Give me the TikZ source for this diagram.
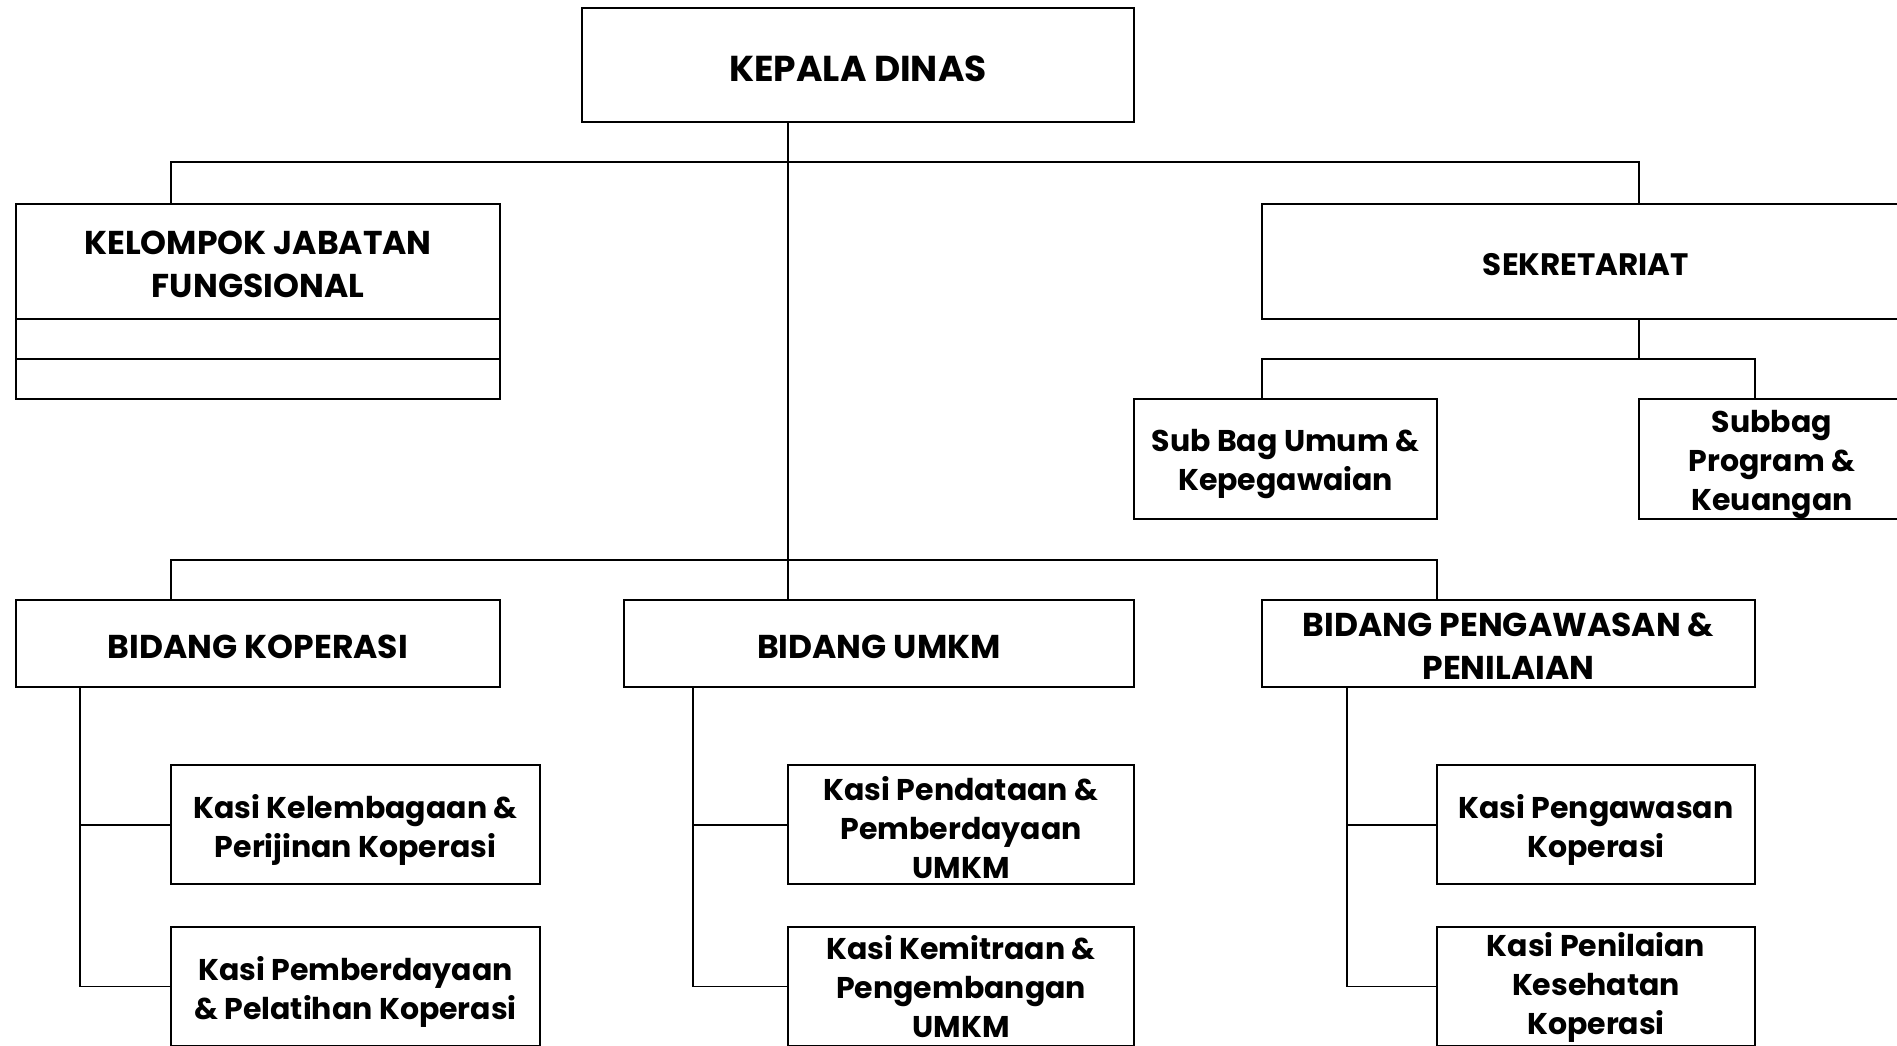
\documentclass[tikz,border=0pt]{standalone}
\usepackage{fontspec}
\setmainfont{Poppins}
\usetikzlibrary{calc}

% one unit = one pixel of the chart
\newcommand{\px}{0.5pt}

\tikzset{
  box/.style={draw, line width=1.2pt, inner sep=0pt, outer sep=0pt},
  headtext/.style={font=\fontsize{16.5}{21.5}\selectfont\bfseries, align=center, inner sep=0pt, yshift=-1.5pt},
  seksitext/.style={font=\fontsize{15}{19.5}\selectfont\bfseries, align=center, inner sep=0pt, yshift=-2.5pt},
  bus/.style={line width=1pt},
  stem/.style={line width=0.6pt},
}

\begin{document}
\begin{tikzpicture}[x=\px, y=-\px]
\useasboundingbox (0,0) rectangle (1897,1045);
\clip (0,0) rectangle (1897,1045);

% top level
\node[box, minimum width=552*\px, minimum height=114*\px,
  label={[headtext, font=\fontsize{18}{22}\selectfont\bfseries, yshift=-0.5pt]center:KEPALA DINAS}] (kepala) at (858,65) {};

\node[box, minimum width=484*\px, minimum height=115*\px,
  label={[headtext]center:{KELOMPOK JABATAN\\FUNGSIONAL}}] (kelompok) at (258,261.5) {};
\node[box, minimum width=484*\px, minimum height=40*\px, anchor=north] (kelrowa) at (kelompok.south) {};
\node[box, minimum width=484*\px, minimum height=40*\px, anchor=north] (kelrowb) at (kelrowa.south) {};

\node[box, minimum width=648*\px, minimum height=115*\px,
  label={[headtext, font=\fontsize{15.5}{21.5}\selectfont\bfseries]center:SEKRETARIAT}] (sekretariat) at (1586,261.5) {};
\node[box, minimum width=303*\px, minimum height=120*\px,
  label={[seksitext]center:{Sub Bag Umum \&\\Kepegawaian}}] (subumum) at (1285.5,459) {};
\node[box, minimum width=266*\px, minimum height=120*\px,
  label={[seksitext, yshift=-0.5pt]center:{Subbag\\Program \&\\Keuangan}}] (subprog) at (1772,459) {};

% bidang
\node[box, minimum width=484*\px, minimum height=87*\px,
  label={[headtext]center:BIDANG KOPERASI}] (bidkop) at (258,643.5) {};
\node[box, minimum width=510*\px, minimum height=87*\px,
  label={[headtext]center:BIDANG UMKM}] (bidumkm) at (879,643.5) {};
\node[box, minimum width=493*\px, minimum height=87*\px,
  label={[headtext]center:{BIDANG PENGAWASAN \&\\PENILAIAN}}] (bidpeng) at (1508.5,643.5) {};

% seksi
\node[box, minimum width=369*\px, minimum height=119*\px,
  label={[seksitext]center:{Kasi Kelembagaan \&\\Perijinan Koperasi}}] (kasikel) at (355.5,824.5) {};
\node[box, minimum width=369*\px, minimum height=119*\px,
  label={[seksitext]center:{Kasi Pemberdayaan\\\& Pelatihan Koperasi}}] (kasipel) at (355.5,986.5) {};
\node[box, minimum width=346*\px, minimum height=119*\px,
  label={[seksitext, yshift=1pt]center:{Kasi Pendataan \&\\Pemberdayaan\\UMKM}}] (kasidata) at (961,824.5) {};
\node[box, minimum width=346*\px, minimum height=119*\px,
  label={[seksitext, yshift=2.5pt]center:{Kasi Kemitraan \&\\Pengembangan\\UMKM}}] (kasimitra) at (961,986.5) {};
\node[box, minimum width=318*\px, minimum height=119*\px,
  label={[seksitext]center:{Kasi Pengawasan\\Koperasi}}] (kasiawas) at (1596,824.5) {};
\node[box, minimum width=318*\px, minimum height=119*\px,
  label={[seksitext, yshift=2pt]center:{Kasi Penilaian\\Kesehatan\\Koperasi}}] (kasinilai) at (1596,986.5) {};

% guide lines
\coordinate (topbus) at (0,162);
\coordinate (subbus) at (0,359);
\coordinate (lowbus) at (0,560);
\coordinate (trunk) at (788,0);
\coordinate (leftx) at (171,0);
\coordinate (rightx) at (1639,0);
\coordinate (umumx) at (1262,0);
\coordinate (progx) at (1755,0);
\coordinate (pengx) at (1437,0);
\coordinate (kopx) at (80,0);
\coordinate (umkmx) at (693,0);
\coordinate (pengspx) at (1347,0);

\draw[stem] (trunk |- kepala.south) -- (trunk |- bidumkm.north);
\draw[bus] (leftx |- kelompok.north) |- (rightx |- topbus) -- (rightx |- sekretariat.north);
\draw[stem] (rightx |- sekretariat.south) -- (rightx |- subbus);
\draw[bus] (umumx |- subumum.north) |- (progx |- subbus) -- (progx |- subprog.north);
\draw[bus] (leftx |- bidkop.north) |- (pengx |- lowbus) -- (pengx |- bidpeng.north);

\draw[stem] (kopx |- bidkop.south) |- (kasipel.west);
\draw[bus] (kopx |- kasikel.west) -- (kasikel.west);
\draw[stem] (umkmx |- bidumkm.south) |- (kasimitra.west);
\draw[bus] (umkmx |- kasidata.west) -- (kasidata.west);
\draw[stem] (pengspx |- bidpeng.south) |- (kasinilai.west);
\draw[bus] (pengspx |- kasiawas.west) -- (kasiawas.west);
\end{tikzpicture}
\end{document}
